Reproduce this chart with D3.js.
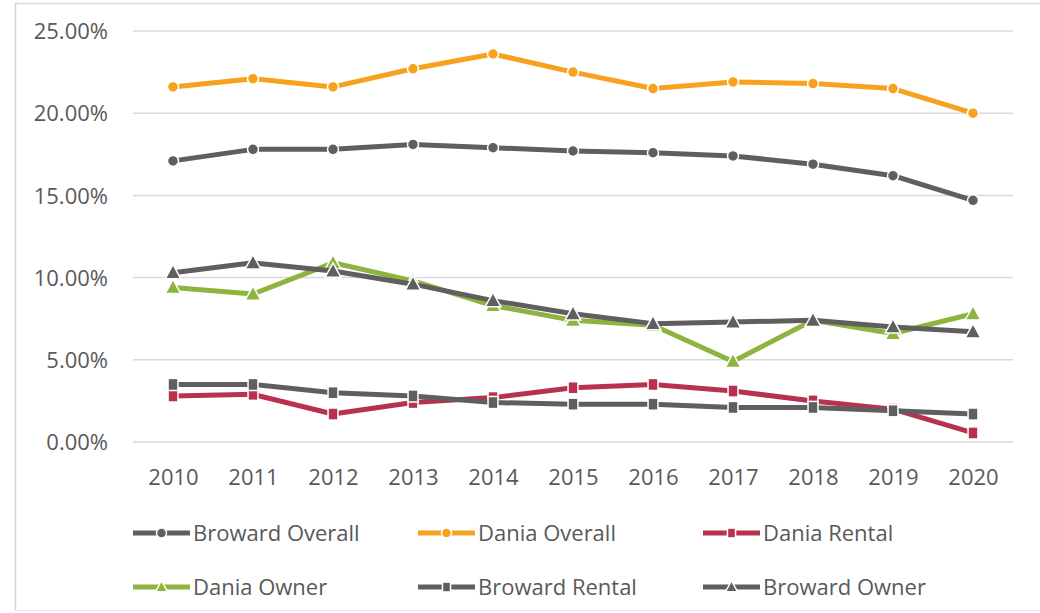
<!DOCTYPE html>
<html><head><meta charset="utf-8">
<script src="https://cdn.jsdelivr.net/npm/d3@7"></script>
<style>
html,body{margin:0;padding:0;background:#fff;}
svg{display:block;}
text{font-family:"Open Sans",sans-serif;fill:#595959;}
</style></head>
<body><svg id="c" width="1040" height="613"></svg>
<script>
const years = ["2010","2011","2012","2013","2014","2015","2016","2017","2018","2019","2020"];
const yTicks = [0,5,10,15,20,25];
const seriesNames = ["Broward Overall","Dania Overall","Dania Rental","Dania Owner","Broward Rental","Broward Owner"];
const browardOverall = [17.1,17.8,17.8,18.1,17.9,17.7,17.6,17.4,16.9,16.2,14.7];
const daniaOverall   = [21.6,22.1,21.6,22.7,23.6,22.5,21.5,21.9,21.8,21.5,20.0];
const daniaRental    = [2.8,2.9,1.7,2.4,2.7,3.3,3.5,3.1,2.5,2.0,0.55];
const daniaOwner     = [9.4,9.0,10.9,9.8,8.3,7.4,7.1,4.9,7.4,6.6,7.8];
const browardRental  = [3.5,3.5,3.0,2.8,2.4,2.3,2.3,2.1,2.1,1.9,1.7];
const browardOwner   = [10.3,10.9,10.4,9.6,8.6,7.8,7.2,7.3,7.4,7.0,6.7];

const colors = ["#5f5f5f","#f7a21e","#b8324f","#8cb43f","#5f5f5f","#5f5f5f"];
const shapes = ["circle","circle","square","triangle","square","triangle"];
const values = [browardOverall,daniaOverall,daniaRental,daniaOwner,browardRental,browardOwner];
const drawOrder = [0,1,2,3,4,5];

const svg = d3.select("#c");
// frame
svg.append("line").attr("x1",15).attr("x2",1040).attr("y1",3.5).attr("y2",3.5).attr("stroke","#d9d9d9").attr("stroke-width",1.5);
svg.append("line").attr("x1",15.5).attr("x2",15.5).attr("y1",3).attr("y2",611).attr("stroke","#d4d4d4").attr("stroke-width",1.5);
svg.append("line").attr("x1",15).attr("x2",1040).attr("y1",610.5).attr("y2",610.5).attr("stroke","#e6e6e6").attr("stroke-width",1);

const x = d3.scalePoint().domain(years).range([133,1013]).padding(0.5);
const y = d3.scaleLinear().domain([0,25]).range([442,31]);

// gridlines
svg.append("g").selectAll("line").data(yTicks).join("line")
  .attr("x1",133).attr("x2",1013)
  .attr("y1",d=>y(d)).attr("y2",d=>y(d))
  .attr("stroke","#d9d9d9").attr("stroke-width",1.5);

const yAxis = d3.axisLeft(y).tickValues(yTicks).tickFormat(d=>d.toFixed(2)+"%").tickSize(0).tickPadding(0);
const ya = svg.append("g").attr("transform","translate(108,0)").call(yAxis);
ya.select(".domain").remove();
ya.selectAll("text").attr("font-size",22).attr("dy","0.35em").style("font-family","'Open Sans',sans-serif").attr("fill","#595959");

const xAxis = d3.axisBottom(x).tickSize(0).tickPadding(0);
const xa = svg.append("g").attr("transform","translate(0,477)").call(xAxis);
xa.select(".domain").remove();
xa.selectAll("text").attr("font-size",22).attr("dy","0.35em").style("font-family","'Open Sans',sans-serif").attr("fill","#595959");

function marker(sel, shape, color, size){
  if(shape==="circle"){
    sel.append("circle").attr("r",size*0.5).attr("fill",color).attr("stroke","#fff").attr("stroke-width",1.5);
  } else if(shape==="square"){
    sel.append("rect").attr("x",-size*0.45).attr("y",-size*0.55).attr("width",size*0.9).attr("height",size*1.1)
      .attr("fill",color).attr("stroke","#fff").attr("stroke-width",1.5);
  } else {
    const h=size*1.05, w=size*1.2;
    sel.append("path").attr("d",`M0,${-h*0.6}L${w/2},${h*0.45}L${-w/2},${h*0.45}Z`)
      .attr("fill",color).attr("stroke","#fff").attr("stroke-width",1.5);
  }
}

const line = d3.line().x((d,i)=>x(years[i])).y(d=>y(d));
drawOrder.forEach(k=>{
  const s = svg.append("g");
  s.append("path").datum(values[k]).attr("d",line).attr("fill","none")
    .attr("stroke",colors[k]).attr("stroke-width",5).attr("stroke-linejoin","round");
  values[k].forEach((v,i)=>{
    const m = s.append("g").attr("transform",`translate(${x(years[i])},${y(v)})`);
    marker(m, shapes[k], colors[k], shapes[k]==="circle"?11:(shapes[k]==="square"?11:13));
  });
});

// legend
const legPos = [[133,533],[418,533],[703,533],[133,587],[418,587],[703,587]];
seriesNames.forEach((n,k)=>{
  const lg = svg.append("g").attr("transform",`translate(${legPos[k][0]},${legPos[k][1]})`);
  lg.append("line").attr("x1",0).attr("x2",57).attr("y1",0).attr("y2",0).attr("stroke",colors[k]).attr("stroke-width",5);
  const m = lg.append("g").attr("transform","translate(28.5,0)");
  marker(m, shapes[k], colors[k], shapes[k]==="circle"?10:(shapes[k]==="square"?9:10));
  lg.append("text").attr("x",60).attr("y",0).attr("dy","0.35em").attr("font-size",22).text(n);
});
</script></body></html>
